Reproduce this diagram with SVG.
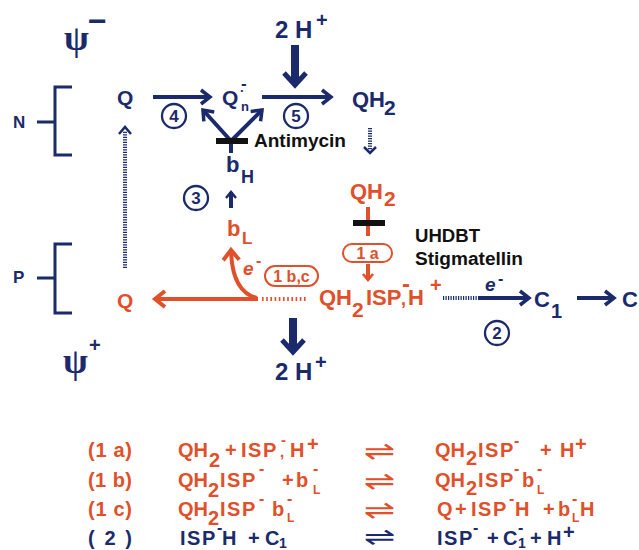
<svg xmlns="http://www.w3.org/2000/svg" width="639" height="550" viewBox="0 0 639 550">
<defs>
<style>
text{font-family:"Liberation Sans",Arial,sans-serif;font-weight:bold}
.n{fill:#1b2a6b}
.r{fill:#e0502a}
.k{fill:#111}
.psi{font-family:"Liberation Serif","Times New Roman",serif;font-size:36px}
.ln{stroke:#1b2a6b;fill:none;stroke-width:4}
.lr{stroke:#e0502a;fill:none;stroke-width:4}
.big{stroke:#1b2a6b;fill:none}
.circ{fill:#fff;stroke:#1b2a6b;stroke-width:2.3}
.pill{fill:#fff;stroke:#e0502a;stroke-width:2}
.dotn{stroke:#1b2a6b;fill:none;stroke-width:4;stroke-dasharray:1.2 1.3}
.dotr{stroke:#e0502a;fill:none;stroke-width:4;stroke-dasharray:1.6 2.6}
.br{stroke:#1b2a6b;fill:none;stroke-width:3}
.eq{font-size:20px}
.isp{letter-spacing:1.5px}
.eqa{font-family:"DejaVu Sans",sans-serif;font-weight:normal;font-size:26px}
</style>
<marker id="an" markerUnits="userSpaceOnUse" orient="auto" overflow="visible" markerWidth="1" markerHeight="1">
<path d="M-9,-7 L0,0 L-9,7" fill="none" stroke="#1b2a6b" stroke-width="3.5"/>
</marker>
<marker id="ans" markerUnits="userSpaceOnUse" orient="auto" overflow="visible" markerWidth="1" markerHeight="1">
<path d="M-6,-5 L0,0 L-6,5" fill="none" stroke="#1b2a6b" stroke-width="2.5"/>
</marker>
<marker id="ar" markerUnits="userSpaceOnUse" orient="auto" overflow="visible" markerWidth="1" markerHeight="1">
<path d="M-10,-8 L0,0 L-10,8" fill="none" stroke="#e0502a" stroke-width="4"/>
</marker>
<marker id="ars" markerUnits="userSpaceOnUse" orient="auto" overflow="visible" markerWidth="1" markerHeight="1">
<path d="M-6,-5 L0,0 L-6,5" fill="none" stroke="#e0502a" stroke-width="2.5"/>
</marker>
</defs>
<rect width="639" height="550" fill="#fff"/>

<g id="connectors">
<line class="ln" x1="153" y1="97" x2="210" y2="97" marker-end="url(#an)"/>
<line class="ln" x1="262" y1="97" x2="331" y2="97" marker-end="url(#an)"/>
<line class="ln" x1="231" y1="141" x2="203" y2="110" marker-end="url(#an)"/>
<line class="ln" x1="231" y1="141" x2="262" y2="110" marker-end="url(#an)"/>
<line class="ln" x1="231" y1="140" x2="231" y2="153"/>
<line class="ln" x1="231" y1="208" x2="231" y2="192" stroke-width="3" marker-end="url(#ans)"/>
<path class="big" d="M295,45 V84" stroke-width="8"/>
<path class="big" d="M284,73 L295,85 L306,73" stroke-width="5"/>
<path class="big" d="M293,318 V351" stroke-width="8"/>
<path class="big" d="M282,340 L293,352 L304,340" stroke-width="5"/>
<line class="dotn" x1="125" y1="268" x2="125" y2="131" stroke-width="5"/>
<path d="M119,134 L125,127 L131,134" fill="none" stroke="#1b2a6b" stroke-width="2.5"/>
<line class="dotn" x1="370" y1="128" x2="370" y2="150" stroke-width="5"/>
<path d="M364,147 L370,153 L376,147" fill="none" stroke="#1b2a6b" stroke-width="2.5"/>
<line class="lr" x1="258" y1="299" x2="155" y2="299" stroke-width="5" marker-end="url(#ar)"/>
<path class="lr" d="M257,298 Q232,292 231,250" marker-end="url(#ar)"/>
<line class="dotr" x1="262" y1="299" x2="308" y2="299"/>
<line class="lr" x1="368" y1="207" x2="368" y2="236"/>
<line class="lr" x1="368" y1="264" x2="368" y2="280" stroke-width="2.5" marker-end="url(#ars)"/>
<line class="dotn" x1="443" y1="298" x2="478" y2="298"/>
<line class="ln" x1="478" y1="298" x2="529" y2="298" marker-end="url(#an)"/>
<line class="ln" x1="577" y1="298" x2="614" y2="298" marker-end="url(#an)"/>
</g>

<g id="psi-minus"><text class="n psi" x="64" y="50">ψ</text><text class="n" x="88" y="32" font-size="32">−</text></g>
<g id="psi-plus"><text class="n psi" x="63" y="373">ψ</text><text class="n" x="89" y="352" font-size="20">+</text></g>

<g id="bracket-N"><text class="n" x="13" y="128" font-size="17">N</text><path class="br" d="M72,87 H55 V155 H72 M37,122 H55"/></g>
<g id="bracket-P"><text class="n" x="13" y="283" font-size="17">P</text><path class="br" d="M72,244 H55 V313 H72 M37,278 H55"/></g>

<g id="h-top"><text class="n" x="275" y="38" font-size="24">2 H<tspan x="316" y="27" font-size="20">+</tspan></text></g>
<g id="h-bottom"><text class="n" x="275" y="380" font-size="24">2 H<tspan x="315" y="369" font-size="20">+</tspan></text></g>

<g id="Q-N"><text class="n" x="117" y="105" font-size="21">Q</text></g>
<g id="Qn"><text class="n" x="222" y="105" font-size="21">Q<tspan x="241" y="89" font-size="17">-</tspan><tspan x="240" y="95" font-size="13">·</tspan><tspan x="241" y="111" font-size="13">n</tspan></text></g>
<g id="QH2-N"><text class="n" x="352" y="107" font-size="22">QH<tspan x="384" y="115" font-size="21">2</tspan></text></g>

<g id="step4"><circle class="circ" cx="174" cy="116" r="12"/><text class="n" x="174" y="122" font-size="17" text-anchor="middle">4</text></g>
<g id="step5"><circle class="circ" cx="296" cy="116" r="12"/><text class="n" x="296" y="122" font-size="17" text-anchor="middle">5</text></g>
<g id="step3"><circle class="circ" cx="196" cy="198" r="12"/><text class="n" x="196" y="204" font-size="17" text-anchor="middle">3</text></g>
<g id="step2"><circle class="circ" cx="497" cy="333" r="12"/><text class="n" x="497" y="339" font-size="17" text-anchor="middle">2</text></g>

<g id="antimycin"><rect x="216" y="138" width="32" height="6" fill="#111"/><text class="k" x="254" y="147" font-size="18" textLength="92" lengthAdjust="spacingAndGlyphs">Antimycin</text></g>

<g id="bH"><text class="n" x="226" y="172" font-size="22">b<tspan x="241" y="183" font-size="18">H</tspan></text></g>
<g id="bL"><text class="r" x="227" y="236" font-size="22">b<tspan x="242" y="244" font-size="17">L</tspan></text></g>

<g id="e-red"><text class="r" x="243" y="275" font-size="19" font-style="italic">e<tspan x="256" y="266" font-size="16" font-style="normal">-</tspan></text></g>
<g id="step1bc"><rect class="pill" x="265" y="266" width="53" height="20" rx="10"/><text class="r" x="291.5" y="282" font-size="16" text-anchor="middle">1 b,c</text></g>

<g id="Q-P"><text class="r" x="117" y="308" font-size="21">Q</text></g>

<g id="QH2-P"><text class="r" x="350" y="199" font-size="22">QH<tspan x="384" y="206" font-size="21">2</tspan></text></g>
<g id="uhdbt-block"><rect x="353" y="220" width="32" height="6" fill="#111"/><text class="k" x="415" y="242" font-size="18" textLength="65" lengthAdjust="spacingAndGlyphs">UHDBT</text><text class="k" x="415" y="265" font-size="18" textLength="108" lengthAdjust="spacingAndGlyphs">Stigmatellin</text></g>
<g id="step1a"><rect class="pill" x="343" y="244" width="49" height="18" rx="9"/><text class="r" x="367.5" y="259" font-size="16" text-anchor="middle">1 a</text></g>

<g id="QH2ISPH"><text class="r" y="305" font-size="22"><tspan x="319">QH</tspan><tspan x="352" y="317" font-size="21">2</tspan><tspan x="366" y="305">ISP</tspan><tspan x="401" font-size="18">,</tspan><tspan x="402" y="292" font-size="24">-</tspan><tspan x="408" y="305">H</tspan><tspan x="430" y="292" font-size="20">+</tspan></text></g>

<g id="e-navy"><text class="n" x="485" y="291" font-size="19" font-style="italic">e<tspan x="498" y="284" font-size="16" font-style="normal">-</tspan></text></g>
<g id="C1"><text class="n" x="534" y="307" font-size="22">C<tspan x="551" y="318" font-size="20">1</tspan></text></g>
<g id="C"><text class="n" x="622" y="307" font-size="22">C</text></g>

<g id="equations">
<text class="r eq" x="88" y="457" textLength="44" lengthAdjust="spacing">(1 a)</text>
<text class="r eq" y="457"><tspan x="178">QH</tspan><tspan x="209" y="467">2</tspan><tspan x="225" y="457">+</tspan><tspan x="241" class="isp">ISP</tspan><tspan x="280" font-size="15">,</tspan><tspan x="281" y="445" font-size="15">-</tspan><tspan x="290" y="457">H</tspan><tspan x="307" y="451" font-size="20">+</tspan></text>
<text class="r eqa" transform="translate(364,460) scale(1.45,1)">⇌</text>
<text class="r eq" y="457"><tspan x="435">QH</tspan><tspan x="466" y="465">2</tspan><tspan x="478" y="457" class="isp">ISP</tspan><tspan x="514" y="446" font-size="16">-</tspan><tspan x="540" y="457">+</tspan><tspan x="560">H</tspan><tspan x="575" y="451" font-size="20">+</tspan></text>
<text class="r eq" x="88" y="487" textLength="44" lengthAdjust="spacing">(1 b)</text>
<text class="r eq" y="487"><tspan x="178">QH</tspan><tspan x="208" y="497">2</tspan><tspan x="220" y="487" class="isp">ISP</tspan><tspan x="259" y="474" font-size="16">-</tspan><tspan x="282" y="487">+</tspan><tspan x="296">b</tspan><tspan x="313" y="474" font-size="16">-</tspan><tspan x="313" y="494" font-size="12">L</tspan></text>
<text class="r eqa" transform="translate(364,490) scale(1.45,1)">⇌</text>
<text class="r eq" y="487"><tspan x="435">QH</tspan><tspan x="466" y="495">2</tspan><tspan x="478" y="487" class="isp">ISP</tspan><tspan x="514" y="474" font-size="16">-</tspan><tspan x="522" y="487">b</tspan><tspan x="537" y="474" font-size="16">-</tspan><tspan x="537" y="494" font-size="12">L</tspan></text>
<text class="r eq" x="88" y="516" textLength="44" lengthAdjust="spacing">(1 c)</text>
<text class="r eq" y="516"><tspan x="178">QH</tspan><tspan x="208" y="525">2</tspan><tspan x="220" y="516" class="isp">ISP</tspan><tspan x="259" y="504" font-size="16">-</tspan><tspan x="272" y="516">b</tspan><tspan x="287" y="504" font-size="16">-</tspan><tspan x="287" y="522" font-size="12">L</tspan></text>
<text class="r eqa" transform="translate(364,519) scale(1.45,1)">⇌</text>
<text class="r eq" y="516"><tspan x="437">Q</tspan><tspan x="455">+</tspan><tspan x="471" class="isp">ISP</tspan><tspan x="509" y="504" font-size="16">-</tspan><tspan x="515" y="516">H</tspan><tspan x="543">+</tspan><tspan x="558">b</tspan><tspan x="572" y="504" font-size="16">-</tspan><tspan x="572" y="522" font-size="12">L</tspan><tspan x="580" y="516">H</tspan></text>
<text class="n eq" x="88" y="545" textLength="44" lengthAdjust="spacing">( 2 )</text>
<text class="n eq" y="545"><tspan x="180" class="isp">ISP</tspan><tspan x="217" y="533" font-size="16">-</tspan><tspan x="222" y="545">H</tspan><tspan x="248">+</tspan><tspan x="265">C</tspan><tspan x="279" y="548" font-size="14">1</tspan></text>
<text class="n eqa" transform="translate(364,545) scale(1.45,0.95)">⇌</text>
<text class="n eq" y="545"><tspan x="437" class="isp">ISP</tspan><tspan x="473" y="533" font-size="16">-</tspan><tspan x="487" y="545">+</tspan><tspan x="503">C</tspan><tspan x="518" y="533" font-size="16">-</tspan><tspan x="518" y="548" font-size="14">1</tspan><tspan x="530" y="545">+</tspan><tspan x="547">H</tspan><tspan x="563" y="539" font-size="20">+</tspan></text>
</g>
</svg>
